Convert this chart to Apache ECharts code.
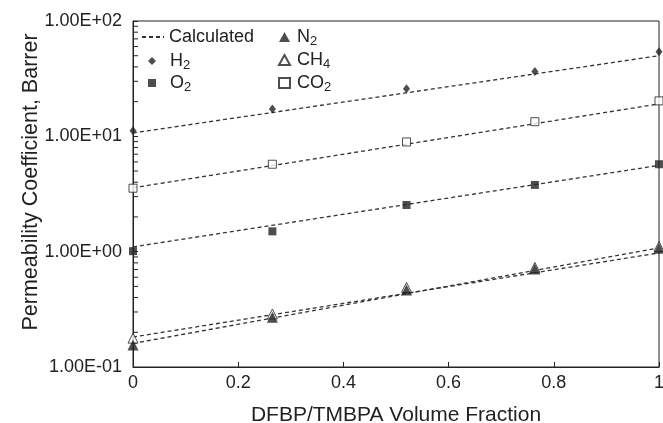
<!DOCTYPE html>
<html>
<head>
<meta charset="utf-8">
<script src="https://cdn.jsdelivr.net/npm/echarts@6/dist/echarts.min.js"></script>
<style>html,body{margin:0;padding:0;background:#fff}#c{width:663px;height:423px}</style>
</head>
<body>
<div id="c"></div>
<script>
// ---- data ----
const xVals = [0, 0.265, 0.52, 0.764, 1.0];
const h2  = [11.2, 17.3, 25.8, 36.4, 54];
const co2 = [3.55, 5.73, 8.94, 13.4, 20.3];
const o2  = [1.01, 1.50, 2.54, 3.79, 5.73];
const ch4 = [0.178, 0.288, 0.49, 0.73, 1.11];
const n2  = [0.155, 0.27, 0.466, 0.708, 1.07];

const calcX   = [0, 1];
const calcH2  = [10.7, 50];
const calcCO2 = [3.58, 19.1];
const calcO2  = [1.10, 5.6];
const calcCH4 = [0.182, 0.975];
const calcN2  = [0.16, 1.077];

const minorTickVals = [0.2,0.3,0.4,0.5,0.6,0.7,0.8,0.9,2,3,4,5,6,7,8,9,20,30,40,50,60,70,80,90];

const labelsMap = {
  'Calculated': '{n|Calculated}',
  'H2': '{n|H}{s|2}',
  'O2': '{n|O}{s|2}',
  'N2': '{n|N}{s|2}',
  'CH4': '{n|CH}{s|4}',
  'CO2': '{n|CO}{s|2}'
};

function pair(xs, ys) { return xs.map((x, i) => [x, ys[i]]); }
function fmtE(v) {
  const e = Math.round(Math.log10(v));
  const m = v / Math.pow(10, e);
  const a = Math.abs(e);
  return m.toFixed(2) + 'E' + (e < 0 ? '-' : '+') + (a < 10 ? '0' + a : '' + a);
}

const ink = '#222';
const font = 'Liberation Sans, Arial, Helvetica, sans-serif';
const richText = {
  n: { fontSize: 18, fontFamily: font, color: ink, lineHeight: 22 },
  s: { fontSize: 13, fontFamily: font, color: ink, lineHeight: 22, verticalAlign: 'bottom', padding: [9, 0, 0, 0] }
};

function calcSeries(ys) {
  return {
    name: 'Calculated', type: 'line', data: pair(calcX, ys), symbol: 'none',
    itemStyle: { color: 'rgba(0,0,0,0)' },
    lineStyle: { color: '#333', width: 1.3, type: [4, 3] }, z: 2, silent: true
  };
}
function pts(name, ys, symbol, size, hollow) {
  return {
    name, type: 'scatter', data: pair(xVals, ys), symbol, symbolSize: size,
    itemStyle: hollow ? { color: '#fff', borderColor: ink, borderWidth: 1 } : { color: ink },
    z: 3
  };
}
function legendBox(names, left, top, w, h, padLeft, gap) {
  return {
    data: names, orient: 'vertical', left, top, padding: 0,
    itemWidth: w, itemHeight: h, itemGap: gap, formatter: n => labelsMap[n],
    textStyle: { rich: richText, padding: [0, 0, 0, padLeft] }, selectedMode: false
  };
}

const chart = echarts.init(document.getElementById('c'), null, { renderer: 'canvas' });
chart.setOption({
  animation: false,
  backgroundColor: '#fff',
  grid: { left: 133, right: 4, top: 21, bottom: 56, outerBoundsMode: 'none', containLabel: false,
          show: true, borderColor: ink, borderWidth: 1, backgroundColor: 'transparent' },
  legend: [
    legendBox(['Calculated'], 141, 28, 22, 9, 0, 1),
    legendBox(['H2', 'O2'], 148, 50, 8, 8, 9, 0),
    legendBox(['N2', 'CH4', 'CO2'], 278, 26, 11, 10, 2, 1)
  ],
  xAxis: {
    type: 'value', min: 0, max: 1, interval: 0.2,
    name: 'DFBP/TMBPA Volume Fraction', nameLocation: 'middle', nameGap: 38, nameMoveOverlap: false,
    nameTextStyle: { fontSize: 21, fontFamily: font, color: ink },
    axisLine: { show: true, lineStyle: { color: ink, width: 1 } },
    axisTick: { show: true, inside: true, length: 5, lineStyle: { color: ink } },
    axisLabel: { fontSize: 18, fontFamily: font, color: ink, margin: 7 },
    splitLine: { show: false }
  },
  yAxis: {
    type: 'log', logBase: 10, min: 0.1, max: 100,
    name: 'Permeability Coefficient, Barrer', nameLocation: 'middle', nameGap: 91, nameMoveOverlap: false,
    nameTextStyle: { fontSize: 21.5, fontFamily: font, color: ink, padding: [0, 0, 0, 24] },
    axisLine: { show: true, lineStyle: { color: ink, width: 1 } },
    axisTick: { show: true, inside: true, length: 5, lineStyle: { color: ink } },
    axisLabel: { fontSize: 18, fontFamily: font, color: ink, margin: 11, formatter: v => fmtE(v) },
    splitLine: { show: false }
  },
  series: [
    calcSeries(calcH2), calcSeries(calcCO2), calcSeries(calcO2), calcSeries(calcCH4), calcSeries(calcN2),
    pts('H2', h2, 'diamond', [7, 9], false),
    pts('O2', o2, 'rect', 8, false),
    pts('CO2', co2, 'rect', 8, true),
    pts('CH4', ch4, 'triangle', [10, 10], true),
    pts('N2', n2, 'triangle', [11, 11], false),
    {
      type: 'custom', name: 'minorTicks', silent: true, clip: false, z: 4,
      data: minorTickVals.map(v => [0, v]),
      encode: { x: 0, y: 1 },
      renderItem: (params, api) => {
        const p = api.coord([0, api.value(1)]);
        return { type: 'line', shape: { x1: p[0], y1: p[1], x2: p[0] + 5, y2: p[1] }, style: { stroke: ink, lineWidth: 1 } };
      }
    }
  ]
});
</script>
</body>
</html>
